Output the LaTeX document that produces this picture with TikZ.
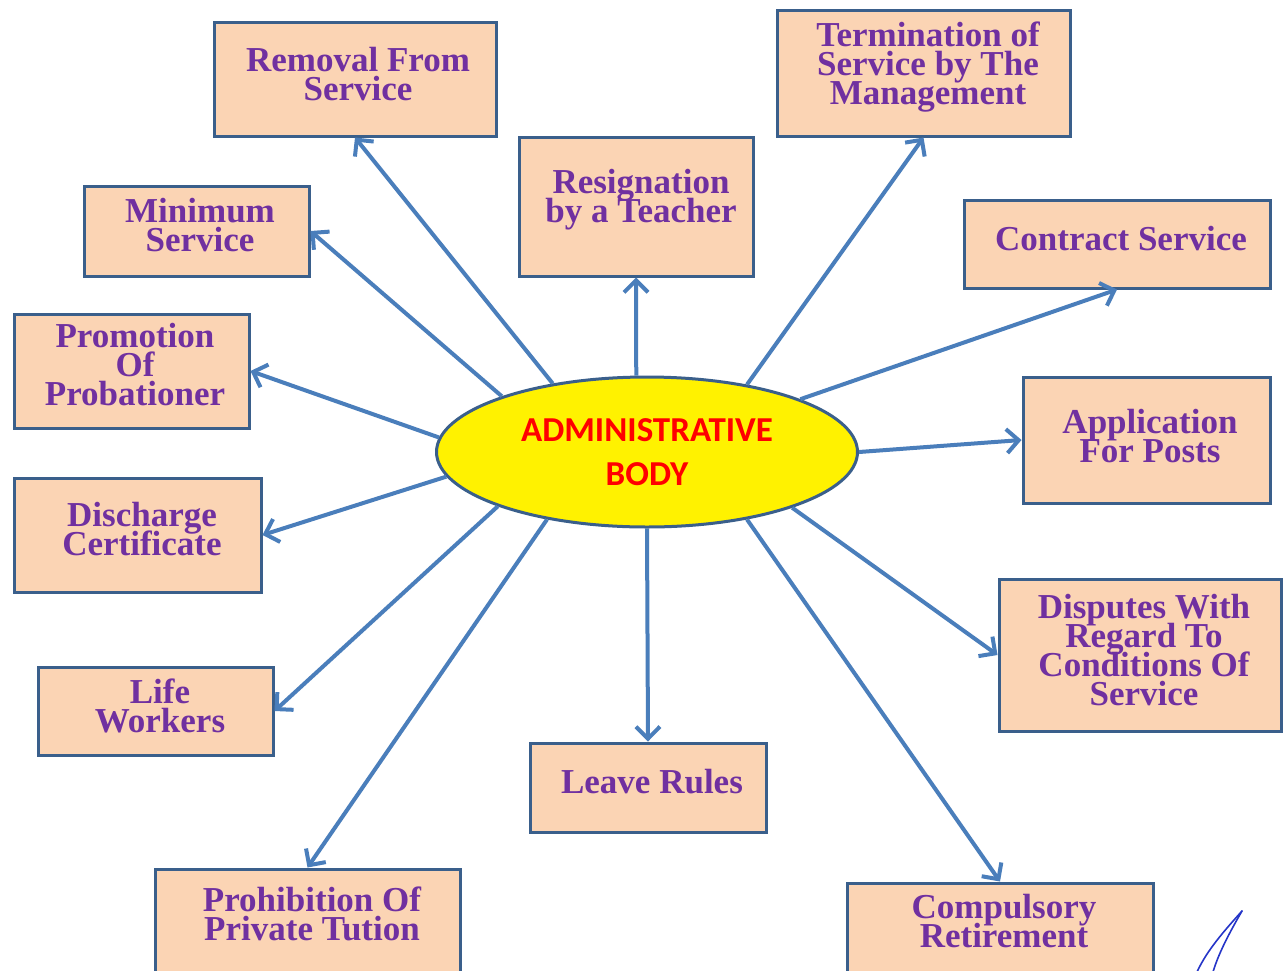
\documentclass[tikz,border=0pt]{standalone}
\usepackage{fontspec}
\setmainfont{Liberation Serif}
\newfontfamily\calibri{Carlito}
\usetikzlibrary{shapes.geometric,arrows.meta}
\definecolor{peach}{HTML}{FBD4B4}
\definecolor{boxline}{HTML}{3A5F8B}
\definecolor{arrowblue}{HTML}{4A7EBB}
\definecolor{txtpurple}{HTML}{7030A0}
\definecolor{sigblue}{HTML}{2535C8}
\newcommand\mytightlines{\lineskiplimit=-100pt\relax\lineskip=0pt\relax}
\tikzset{
  boxnode/.style={draw=boxline, fill=peach, line width=3pt, inner sep=0pt},
  lbl/.style={text=txtpurple, font=\fontsize{35}{29}\selectfont\bfseries\mytightlines, align=center, inner sep=0pt},
  conn/.style={draw=arrowblue, line width=4pt, -{Straight Barb[length=12pt,width=24pt]}},
  sig/.style={draw=sigblue, line width=1.6pt, line cap=round}
}
\begin{document}
\begin{tikzpicture}[x=1pt,y=-1pt]
\fill[white] (0,0) rectangle (1283,970);
\useasboundingbox (0,0) rectangle (1283,970);

% central ellipse
\node[ellipse, draw=boxline, fill=yellow, line width=3pt, minimum width=421pt, minimum height=150pt, inner sep=0pt,
      text=red, align=center, font=\calibri\bfseries\fontsize{35}{44}\selectfont] (body) at (647,452) {ADMINISTRATIVE\\BODY};

% boxes
\node[boxnode, minimum width=282pt, minimum height=114pt] (rem) at (355,79) {};
\node[boxnode, minimum width=293pt, minimum height=126pt] (term) at (923.5,73) {};
\node[boxnode, minimum width=234pt, minimum height=139pt] (resig) at (636,206.5) {};
\node[boxnode, minimum width=225pt, minimum height=90pt] (mini) at (196.5,231) {};
\node[boxnode, minimum width=306pt, minimum height=88pt] (contr) at (1117,244) {};
\node[boxnode, minimum width=235pt, minimum height=114pt] (promo) at (131.5,371) {};
\node[boxnode, minimum width=247pt, minimum height=126pt] (appl) at (1146.5,440) {};
\node[boxnode, minimum width=247pt, minimum height=114pt] (disch) at (137.5,535) {};
\node[boxnode, minimum width=282pt, minimum height=152pt] (disp) at (1140,655) {};
\node[boxnode, minimum width=235pt, minimum height=88pt] (life) at (155.5,711) {};
\node[boxnode, minimum width=236pt, minimum height=89pt] (leave) at (648,787.5) {};
\node[boxnode, minimum width=305pt, minimum height=121pt] (prohib) at (307.5,929.5) {};
\node[boxnode, minimum width=306pt, minimum height=117pt] (compul) at (1000,941.5) {};

% labels
\node[lbl] (tRem) at (358,74) {Removal From\\Service};
\node[lbl] (tTerm) at (928,67) {Termination of\\Service by The\\Management};
\node[lbl] (tResig) at (641,200) {Resignation\\by a Teacher};
\node[lbl] (tMini) at (200,225) {Minimum\\Service};
\node[lbl] (tContr) at (1121,239) {Contract Service};
\node[lbl] (tPromo) at (135,365) {Promotion\\Of\\Probationer};
\node[lbl] (tAppl) at (1150,436) {Application\\For Posts};
\node[lbl] (tDisch) at (142,529) {Discharge\\Certificate};
\node[lbl] (tDisp) at (1144,650) {Disputes With\\Regard To\\Conditions Of\\Service};
\node[lbl] (tLife) at (160,706) {Life\\Workers};
\node[lbl] (tLeave) at (652,782) {Leave Rules};
\node[lbl] (tProhib) at (312,914) {Prohibition Of\\Private Tution};
\node[lbl] (tCompul) at (1004,921) {Compulsory\\Retirement};

% connectors
\draw[conn] (body.144.8) -- (rem.south);
\draw[conn] (body.98) -- (resig.south);
\draw[conn] (body.34.4) -- (term.south);
\draw[conn] (body.159.9) -- (mini.east);
\draw[conn] (body.19.8) -- (contr.south);
\draw[conn] (body.176.2) -- (promo.east);
\draw[conn] (body.0.3) -- (appl.west);
\draw[conn] (body.187.6) -- (disch.east);
\draw[conn] (body.339.3) -- (disp.west);
\draw[conn] (body.200.5) -- (life.east);
\draw[conn] (body.270) -- (leave.north);
\draw[conn] (body.214.4) -- (prohib.north);
\draw[conn] (body.326.4) -- (compul.north);

% handwritten stroke
\draw[sig] (1242,911) .. controls (1225,930) and (1207,950) .. (1197,972);
\draw[sig] (1242,911) .. controls (1228,935) and (1218,955) .. (1213,972);
\end{tikzpicture}
\end{document}
